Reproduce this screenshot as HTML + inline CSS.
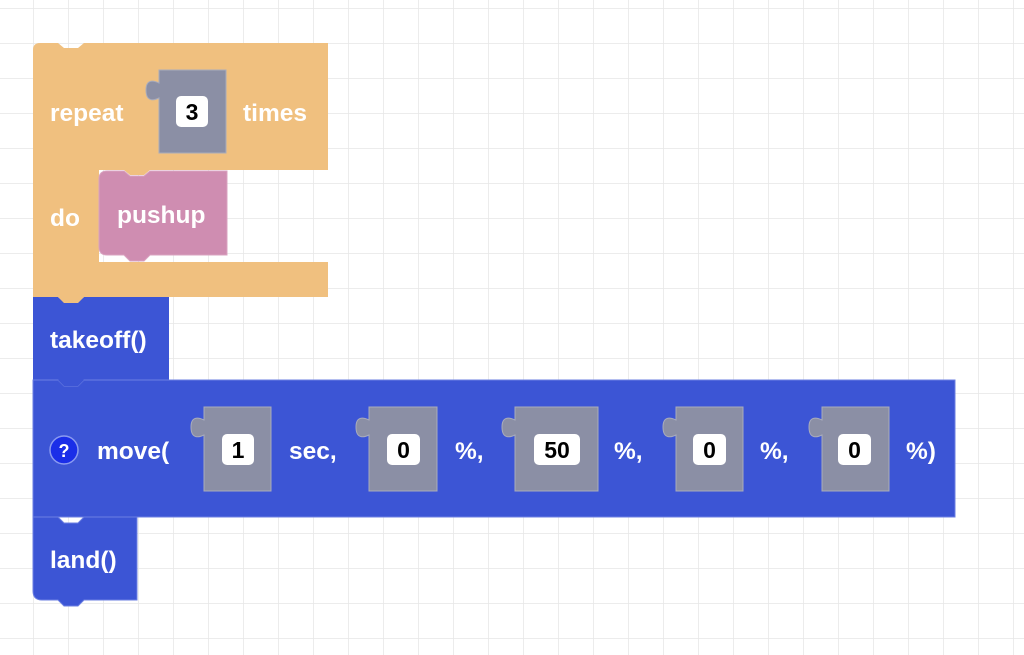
<!DOCTYPE html>
<html><head><style>
html,body{margin:0;padding:0;width:1024px;height:655px;overflow:hidden;background:#fff}
svg{display:block}
text{font-family:"Liberation Sans",sans-serif;font-weight:bold}
</style></head><body>
<svg width="1024" height="655" viewBox="0 0 1024 655">
<defs>
<pattern id="g" width="35" height="35" patternUnits="userSpaceOnUse" x="33" y="8">
<path d="M0 0H35M0 0V35" stroke="#e6e6e6" stroke-width="1.5" fill="none"/>
</pattern>
</defs>
<rect width="1024" height="655" fill="url(#g)"/>

<path d="M33,297 H58 L64,302 H78 L84,297 H169 V380 H33 Z" fill="#3c55d5"/>
<path d="M33,380 H58 L64,386 H78 L84,380 H955 V517 H33 Z" fill="#3c55d5" stroke="#6b7fe2" stroke-width="1"/>
<path d="M33,517 H58 L64,523 H78 L84,517 H137 V600 H84 L78,606 H64 L58,600 H42 Q33,600 33,591 Z" fill="#3c55d5" stroke="#6b7fe2" stroke-width="1"/>
<path d="M58,380 L64,386 H78 L84,380 Z" fill="#3c55d5"/>

<path d="M33,50 Q33,43 40,43 H58 L64,48 H78 L84,43 H328 V170 H150 L144,175 H130 L124,170 H99 V262 H328 V297 H84 L78,303 H64 L58,297 H33 Z" fill="#f0c07f"/>

<path d="M107,171 H124 L130,176 H144 L150,171 H227 V255 H150 L144,261 H130 L124,255 H107 Q99,255 99,247 V179 Q99,171 107,171 Z" fill="#cf8db1" stroke="#d9a3c0" stroke-width="1"/>

<g fill="#8b8fa5" stroke="#a9acbc" stroke-width="1">
<path d="M159,70 H226 V153 H159 V98 c-4,2 -13,5 -13,-8 c0,-12 9,-9 13,-7 Z"/>
<path d="M204,407 H271 V491 H204 V435 c-4,2 -13,5 -13,-8 c0,-12 9,-9 13,-7 Z"/>
<path d="M369,407 H437 V491 H369 V435 c-4,2 -13,5 -13,-8 c0,-12 9,-9 13,-7 Z"/>
<path d="M515,407 H598 V491 H515 V435 c-4,2 -13,5 -13,-8 c0,-12 9,-9 13,-7 Z"/>
<path d="M676,407 H743 V491 H676 V435 c-4,2 -13,5 -13,-8 c0,-12 9,-9 13,-7 Z"/>
<path d="M822,407 H889 V491 H822 V435 c-4,2 -13,5 -13,-8 c0,-12 9,-9 13,-7 Z"/>
</g>
<g fill="#fff">
<rect x="176" y="96" width="32" height="31" rx="5"/>
<rect x="222" y="434" width="32" height="31" rx="5"/>
<rect x="387" y="434" width="33" height="31" rx="5"/>
<rect x="534" y="434" width="46" height="31" rx="5"/>
<rect x="693" y="434" width="33" height="31" rx="5"/>
<rect x="838" y="434" width="33" height="31" rx="5"/>
</g>
<g font-size="23" fill="#000" text-anchor="middle">
<text x="192" y="120">3</text>
<text x="238" y="458">1</text>
<text x="403.5" y="458">0</text>
<text x="557" y="458">50</text>
<text x="709.5" y="458">0</text>
<text x="854.5" y="458">0</text>
</g>

<circle cx="64" cy="450" r="14" fill="#1a2ee8" stroke="#8a9af0" stroke-width="1.5"/>
<text x="64" y="457" font-size="18" fill="#fff" text-anchor="middle">?</text>

<g font-size="24.5" fill="#fff">
<text x="50" y="121">repeat</text>
<text x="243" y="121">times</text>
<text x="50" y="226">do</text>
<text x="117" y="223">pushup</text>
<text x="50" y="348">takeoff()</text>
<text x="97" y="459">move(</text>
<text x="289" y="459">sec,</text>
<text x="455" y="459">%,</text>
<text x="614" y="459">%,</text>
<text x="760" y="459">%,</text>
<text x="906" y="459">%)</text>
<text x="50" y="568">land()</text>
</g>
</svg>
</body></html>
